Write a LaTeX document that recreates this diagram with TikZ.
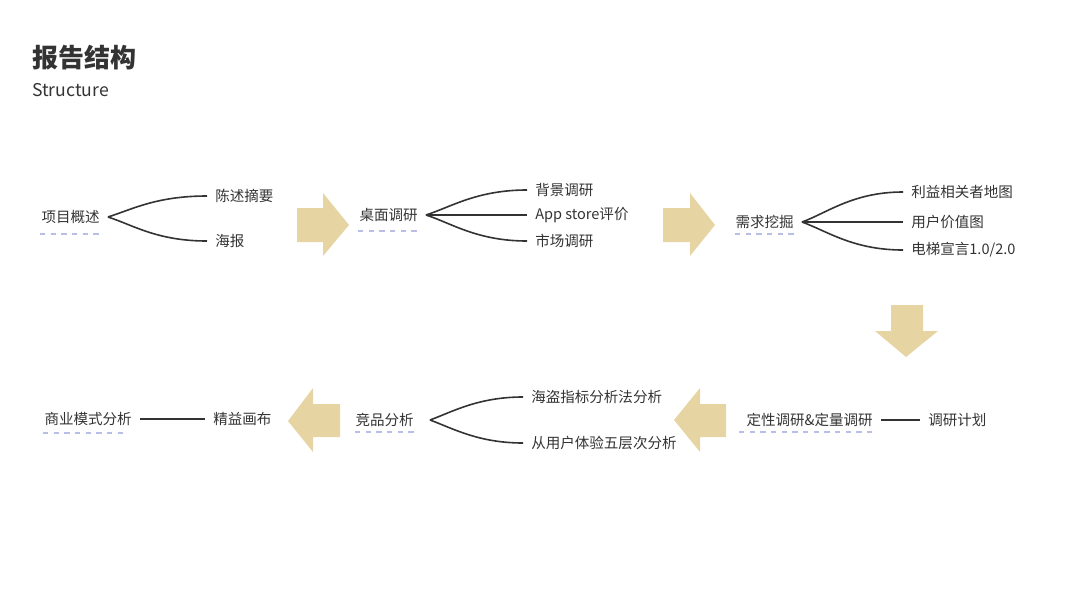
\documentclass[tikz,border=0pt]{standalone}
\usepackage{fontspec}
\setmainfont{Noto Sans CJK SC}
\usetikzlibrary{calc}
\definecolor{txt}{HTML}{333333}
\definecolor{arr}{HTML}{E6D5A3}
\definecolor{ul}{HTML}{B9BEE6}
\begin{document}
\begin{tikzpicture}[x=0.75pt,y=-0.75pt,
  lbl/.style={font=\fontsize{10.9pt}{13pt}\selectfont, text=txt, inner xsep=6pt, inner ysep=2pt},
  branch/.style={draw=txt, line width=1.2pt},
  uline/.style={draw=ul, line width=1.6pt, dash pattern=on 4pt off 4pt},
  bigarrow/.style={fill=arr, draw=none}]
\useasboundingbox (0,0) rectangle (1067,600);
% title
\node[anchor=west, text=txt, inner sep=0, font=\fontsize{19.5pt}{22pt}\selectfont\bfseries] (title) at (32,58) {报告结构};
\node[anchor=west, text=txt, inner sep=0, font=\fontsize{13.2pt}{15pt}\selectfont] (sub) at (32,90) {Structure};

% row 1 group 1
\node[lbl, anchor=east] (r1) at (108,217) {项目概述};
\node[lbl, anchor=west] (c1a) at (207,196) {陈述摘要};
\node[lbl, anchor=west] (c1b) at (207,241) {海报};
\draw[branch] (r1.east) .. controls +(25,-8) and +(-50,0) .. (c1a.west);
\draw[branch] (r1.east) .. controls +(25,8) and +(-50,0) .. (c1b.west);
\draw[uline] (40,234) -- (101,234);

% arrow 1
\fill[bigarrow] (297,208) -- (323,208) -- (323,193) -- (349,225) -- (323,256) -- (323,242) -- (297,242) -- cycle;

% row 1 group 2
\node[lbl, anchor=east] (r2) at (426,215) {桌面调研};
\node[lbl, anchor=west] (c2a) at (527,190) {背景调研};
\node[lbl, anchor=west] (c2b) at (527,215) {App store评价};
\node[lbl, anchor=west] (c2c) at (527,241) {市场调研};
\draw[branch] (r2.east) .. controls +(25,-8) and +(-50,0) .. (c2a.west);
\draw[branch] (r2.east) -- (c2b.west);
\draw[branch] (r2.east) .. controls +(25,8) and +(-50,0) .. (c2c.west);
\draw[uline] (358,231) -- (421,231);

% arrow 2
\fill[bigarrow] (663,208) -- (690,208) -- (690,193) -- (715,225) -- (690,256) -- (690,242) -- (663,242) -- cycle;

% row 1 group 3
\node[lbl, anchor=east] (r3) at (802,222) {需求挖掘};
\node[lbl, anchor=west] (c3a) at (903,192) {利益相关者地图};
\node[lbl, anchor=west] (c3b) at (903,222) {用户价值图};
\node[lbl, anchor=west] (c3c) at (903,250) {电梯宣言1.0/2.0};
\draw[branch] (r3.east) .. controls +(25,-9) and +(-50,0) .. (c3a.west);
\draw[branch] (r3.east) -- (c3b.west);
\draw[branch] (r3.east) .. controls +(25,9) and +(-50,0) .. (c3c.west);
\draw[uline] (735,234) -- (798,234);

% down arrow
\fill[bigarrow] (891,305) -- (923,305) -- (923,331) -- (938,331) -- (906,357) -- (875,331) -- (891,331) -- cycle;

% row 2 group 1
\node[lbl, anchor=west] (c5) at (920,420) {调研计划};
\node[lbl, anchor=east] (r5) at (881,420) {定性调研\&定量调研};
\draw[branch] (r5.east) -- (c5.west);
\draw[uline] (739,432) -- (876,432);

% arrow 3
\fill[bigarrow] (726,404) -- (700,404) -- (700,388) -- (674,420) -- (700,452) -- (700,437) -- (726,437) -- cycle;

% row 2 group 2
\node[lbl, anchor=east] (r6) at (422,420) {竞品分析};
\node[lbl, anchor=west] (c6a) at (523,397) {海盗指标分析法分析};
\node[lbl, anchor=west] (c6b) at (523,443) {从用户体验五层次分析};
\draw[branch] ([xshift=6pt]r6.east) .. controls +(22,-8) and +(-45,0) .. (c6a.west);
\draw[branch] ([xshift=6pt]r6.east) .. controls +(22,8) and +(-45,0) .. (c6b.west);
\draw[uline] (355,432) -- (418,432);

% arrow 4
\fill[bigarrow] (340,404) -- (313,404) -- (313,388) -- (288,421) -- (313,452) -- (313,437) -- (340,437) -- cycle;

% row 2 group 3
\node[lbl, anchor=west] (c7) at (205,419) {精益画布};
\node[lbl, anchor=east] (r7) at (140,419) {商业模式分析};
\draw[branch] (r7.east) -- (c7.west);
\draw[uline] (43,433) -- (128,433);
\end{tikzpicture}
\end{document}
